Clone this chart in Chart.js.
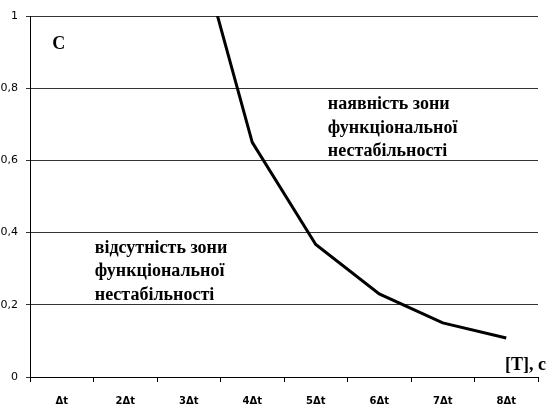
<!DOCTYPE html>
<html lang="uk">
<head>
<meta charset="UTF-8">
<title>Зона функціональної нестабільності</title>
<script src="https://cdn.jsdelivr.net/npm/chart.js@4.4.1/dist/chart.umd.min.js"></script>
<style>
    html, body { margin: 0; padding: 0; background: #fff; }
    #wrap { width: 548px; height: 408px; }
</style>
</head>
<body>
<div id="wrap"><canvas id="chart"></canvas></div>
<script>
    // категорії по осі T
    const labels = ['Δt', '2Δt', '3Δt', '4Δt', '5Δt', '6Δt', '7Δt', '8Δt'];
    // значення C (для Δt, 2Δt крива виходить за межі графіка)
    const cValues = [null, null, 1.29, 0.65, 0.367, 0.23, 0.15, 0.108];
    const yTicks = [0, 0.2, 0.4, 0.6, 0.8, 1];

    // підписи на полі графіка: x - індекс категорії, y - значення C
    const notes = [
        { lines: ['C'], x: -0.15, y: 0.908 },
        { lines: ['наявність зони', 'функціональної', 'нестабільності'], x: 4.19, y: 0.742 },
        { lines: ['відсутність зони', 'функціональної', 'нестабільності'], x: 0.52, y: 0.344 },
        { lines: ['[T], c'], x: 6.98, y: 0.019 }
    ];

    const notesPlugin = {
        id: 'notes',
        afterDraw(chart) {
            const ctx = chart.ctx;
            const xs = chart.scales.x, ys = chart.scales.y;
            const step = xs.getPixelForValue(1) - xs.getPixelForValue(0);
            ctx.save();
            ctx.fillStyle = '#000';
            ctx.font = 'bold 18px "Liberation Serif", serif';
            ctx.textAlign = 'left';
            ctx.textBaseline = 'alphabetic';
            notes.forEach(n => {
                const px = xs.getPixelForValue(0) + n.x * step;
                const py = ys.getPixelForValue(n.y);
                n.lines.forEach((t, i) => ctx.fillText(t, px, py + i * 23.5));
            });
            ctx.restore();
        }
    };

    new Chart(document.getElementById('chart'), {
        type: 'line',
        data: {
            labels: labels,
            datasets: [{
                data: cValues,
                borderColor: '#000',
                borderWidth: 3,
                pointRadius: 0,
                tension: 0,
                fill: false
            }]
        },
        options: {
            responsive: true,
            maintainAspectRatio: false,
            animation: false,
            layout: { padding: { top: 16, right: 10, left: 0, bottom: 0 } },
            plugins: { legend: { display: false }, tooltip: { enabled: false } },
            scales: {
                x: {
                    offset: true,
                    grid: { offset: true, drawOnChartArea: false, drawTicks: true, tickLength: 5, color: '#000' },
                    border: { display: true, color: '#000', width: 1 },
                    ticks: { color: '#000', padding: 13, maxRotation: 0, font: { family: 'DejaVu Sans', size: 10, weight: 'bold' } },
                    afterFit(s) { s.height = 31; }
                },
                y: {
                    min: 0,
                    max: 1,
                    afterBuildTicks(s) { s.ticks = yTicks.map(v => ({ value: v })); },
                    grid: { color: '#333', tickLength: 4 },
                    border: { display: true, color: '#000', width: 1 },
                    ticks: {
                        color: '#000',
                        padding: 8,
                        font: { family: 'DejaVu Sans', size: 11 },
                        callback: v => String(v).replace('.', ',')
                    },
                    afterFit(s) { s.width = 30; }
                }
            }
        },
        plugins: [notesPlugin]
    });
</script>
</body>
</html>
